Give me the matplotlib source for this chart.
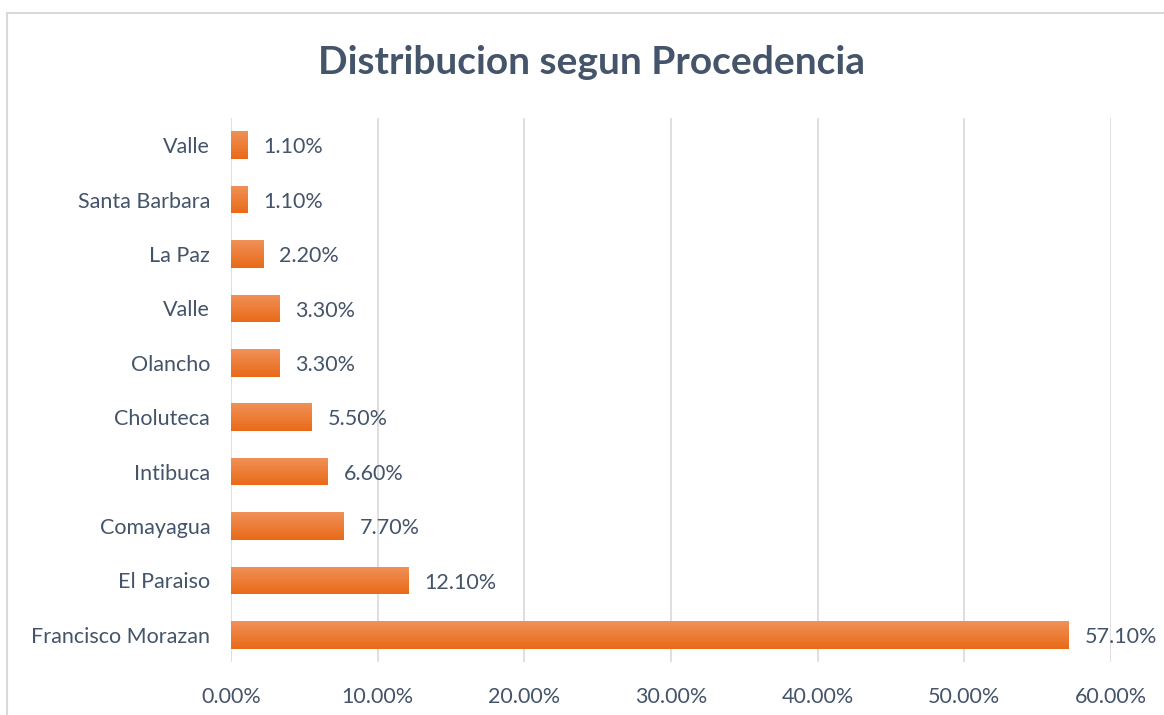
import numpy as np
import matplotlib
matplotlib.use("Agg")
import matplotlib.pyplot as plt
from matplotlib.colors import LinearSegmentedColormap
from matplotlib.ticker import FuncFormatter

# data, bottom to top
categories = ["Francisco Morazan", "El Paraiso", "Comayagua", "Intibuca", "Choluteca",
              "Olancho", "Valle", "La Paz", "Santa Barbara", "Valle"]
values = [57.1, 12.1, 7.7, 6.6, 5.5, 3.3, 3.3, 2.2, 1.1, 1.1]

text_color = "#44546A"
plt.rcParams['font.family'] = ['Lato', 'DejaVu Sans']

fig = plt.figure(figsize=(11.64, 7.15), dpi=100)
W, H = 1164, 715

# chart frame (left and top edge visible)
fig.add_artist(plt.Line2D([7 / W, 7 / W], [0, 1 - 13 / H], color="#D9D9D9", lw=1.5))
fig.add_artist(plt.Line2D([7 / W, 1], [1 - 13 / H, 1 - 13 / H], color="#D9D9D9", lw=1.5))

ax = fig.add_axes([231 / W, 1 - 662 / H, (1111 - 231) / W, (662 - 118) / H])

y = np.arange(len(categories))
bars = ax.barh(y, values, height=0.51, color="#ED7D31", zorder=2)

# vertical gradient on each bar
cmap = LinearSegmentedColormap.from_list("og", ["#E96A17", "#F09158"])
grad = np.linspace(0, 1, 64).reshape(-1, 1)
for b in bars:
    x0, y0 = b.get_x(), b.get_y()
    im = ax.imshow(grad, cmap=cmap, aspect="auto", origin="lower",
                   extent=[x0, x0 + b.get_width(), y0, y0 + b.get_height()], zorder=3)
    im.set_clip_path(b)

for yi, v in zip(y, values):
    ax.text(v + 1.1, yi - 0.04, f"{v:.2f}%", va="center", ha="left", fontsize=15.5, color=text_color)

ax.set_xlim(0, 60)
ax.set_ylim(-0.5, len(categories) - 0.5)
ax.set_xticks(np.arange(0, 61, 10))
ax.xaxis.set_major_formatter(FuncFormatter(lambda v, p: f"{v:.2f}%"))
ax.set_yticks(y)
ax.set_yticklabels(categories)
ax.tick_params(axis="both", length=0, labelsize=15.5, colors=text_color)
ax.tick_params(axis="x", pad=18)
ax.tick_params(axis="y", pad=15)
ax.grid(axis="x", color="#D9D9D9", lw=1.2, zorder=0)
ax.set_axisbelow(True)
for s in ax.spines.values():
    s.set_visible(False)

fig.text(591 / W, 1 - 62 / H, "Distribucion segun Procedencia", ha="center", va="center",
         fontsize=28, fontweight="bold", color=text_color)

fig.savefig("out.png", dpi=100)
